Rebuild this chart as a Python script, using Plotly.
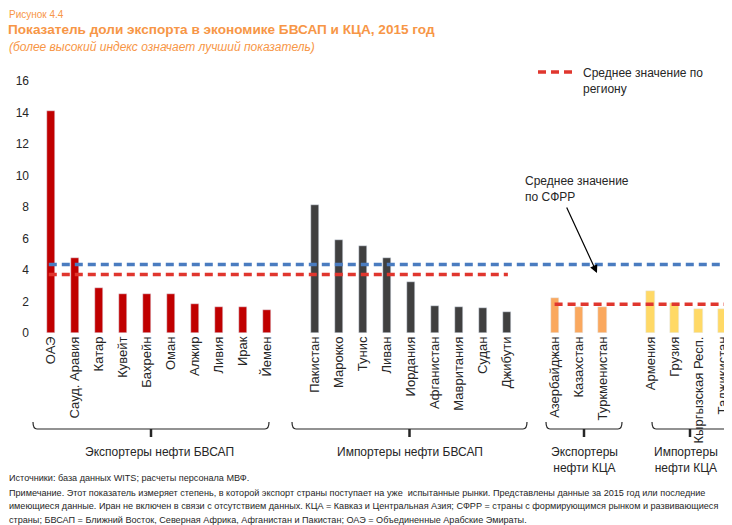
import plotly.graph_objects as go

# ── Data ──────────────────────────────────────────────────────────────────────
mena_exp_names = ["ОАЭ", "Сауд. Аравия", "Катар", "Кувейт", "Бахрейн", "Оман",
                  "Алжир", "Ливия", "Ирак", "Йемен"]
mena_exp_vals = [14.1, 4.75, 2.85, 2.47, 2.47, 2.47, 1.83, 1.64, 1.64, 1.44]

mena_imp_names = ["Пакистан", "Марокко", "Тунис", "Ливан", "Иордания", "Афганистан",
                  "Мавритания", "Судан", "Джибути"]
mena_imp_vals = [8.1, 5.9, 5.5, 4.75, 3.23, 1.7, 1.64, 1.57, 1.32]

cca_exp_names = ["Азербайджан", "Казахстан", "Туркменистан"]
cca_exp_vals = [2.23, 1.64, 1.64]

cca_imp_names = ["Армения", "Грузия", "Кыргызская Респ.", "Таджикистан"]
cca_imp_vals = [2.67, 1.89, 1.53, 1.53]

group_labels = ["Экспортеры нефти БВСАП", "Импортеры нефти БВСАП",
                "Экспортеры<br>нефти КЦА", "Импортеры<br>нефти КЦА"]

emde_avg = 4.35          # среднее значение по СФРР
mena_avg = 3.72          # среднее по региону, БВСАП
cca_avg = 1.83           # среднее по региону, КЦА

# ── Style ─────────────────────────────────────────────────────────────────────
COLORS = ["#C00000", "#404040", "#FAA85E", "#FFD966"]
RED_LINE = "#E0362E"
BLUE_LINE = "#4A7CC0"
ORANGE = "#F79646"
TXT = "#262626"
FONT = "Liberation Sans, Arial, sans-serif"

groups = [
    (mena_exp_names, mena_exp_vals),
    (mena_imp_names, mena_imp_vals),
    (cca_exp_names, cca_exp_vals),
    (cca_imp_names, cca_imp_vals),
]

# slot positions: one blank slot between groups
positions = []
pos = 0
for names, _ in groups:
    positions.append(list(range(pos, pos + len(names))))
    pos += len(names) + 1

# the page body has an 8px margin, so the figure is 8px smaller each way
OFF = 8
FIG_W, FIG_H = 732 - OFF, 525 - OFF
X0, X1 = -0.55, 28.4
L, T, W, H = 30, 73, 694, 252


def px(pix):
    """page pixel x -> paper x"""
    return (pix - OFF - L) / W


def py(pix):
    """page pixel y -> paper y"""
    return (T + H + OFF - pix) / H


def xdata(pix):
    return X0 + px(pix) * (X1 - X0)


def ydata(pix):
    return py(pix) * 16


fig = go.Figure()

for (names, vals), xs, color in zip(groups, positions, COLORS):
    fig.add_trace(go.Bar(
        x=xs, y=vals, marker_color=color, width=0.34,
        showlegend=False, hoverinfo="x+y",
    ))

dash = "8px,5px"
all_x = [x for xs in positions for x in xs]

fig.add_trace(go.Scatter(
    x=[all_x[0] - 0.1, all_x[-1] + 0.2], y=[emde_avg, emde_avg], mode="lines",
    line=dict(color=BLUE_LINE, width=3.5, dash=dash), showlegend=False,
))
fig.add_trace(go.Scatter(
    x=[positions[0][0] - 0.1, positions[1][-1] + 0.05], y=[mena_avg, mena_avg], mode="lines",
    line=dict(color=RED_LINE, width=3.5, dash=dash), showlegend=False,
))
fig.add_trace(go.Scatter(
    x=[positions[2][0], positions[3][-1] + 0.1], y=[cca_avg, cca_avg], mode="lines",
    line=dict(color=RED_LINE, width=3.5, dash=dash), showlegend=False,
))

# legend for the regional average, drawn by hand
fig.add_shape(type="line", xref="paper", yref="paper", x0=px(538), x1=px(576),
              y0=py(72), y1=py(72), line=dict(color=RED_LINE, width=3.5, dash=dash))
fig.add_annotation(x=px(581), y=py(64), xref="paper", yref="paper",
                   text="Среднее значение по<br>региону", showarrow=False,
                   xanchor="left", yanchor="top", align="left",
                   font=dict(size=12, color=TXT, family=FONT))

tickvals = all_x
ticktext = [n for names, _ in groups for n in names]

# ── Brackets under the groups ────────────────────────────────────────────────
bracket_spans = [(33, 269), (292, 527), (546, 622), (652, 728)]
label_centers = [159, 410, 584, 686]
y_top, y_mid, y_tick = py(422), py(429), py(437)
for (a, b), cx, label in zip(bracket_spans, label_centers, group_labels):
    xa, xb = px(a), px(b)
    xm = (xa + xb) / 2
    r = 4 / W
    path = (f"M {xa},{y_top} Q {xa},{y_mid} {xa + r},{y_mid} "
            f"L {xb - r},{y_mid} Q {xb},{y_mid} {xb},{y_top}")
    fig.add_shape(type="path", path=path, xref="paper", yref="paper",
                  line=dict(color=TXT, width=1.2))
    fig.add_shape(type="line", xref="paper", yref="paper", x0=xm, x1=xm,
                  y0=y_mid, y1=y_tick, line=dict(color=TXT, width=2.5))
    fig.add_annotation(x=px(cx), y=py(443), xref="paper", yref="paper",
                       text=label, showarrow=False, xanchor="center", yanchor="top",
                       font=dict(size=12, color=TXT, family=FONT))

# ── EMDE average callout ─────────────────────────────────────────────────────
fig.add_annotation(x=px(523), y=py(172), xref="paper", yref="paper",
                   text="Среднее значение<br>по СФРР", showarrow=False,
                   xanchor="left", yanchor="top", align="left",
                   font=dict(size=12, color=TXT, family=FONT))
fig.add_annotation(x=xdata(597), y=ydata(273), ax=-31, ay=-67, text="", showarrow=True,
                   arrowhead=2, arrowsize=1.3, arrowwidth=1.2, arrowcolor="#000000")

# ── Titles ────────────────────────────────────────────────────────────────────
fig.add_annotation(x=px(8), y=py(8), xref="paper", yref="paper", text="Рисунок 4.4",
                   showarrow=False, xanchor="left", yanchor="top", borderpad=0,
                   font=dict(size=10, color=ORANGE, family=FONT))
fig.add_annotation(x=px(7), y=py(21), xref="paper", yref="paper",
                   text="<b>Показатель доли экспорта в экономике БВСАП и КЦА, 2015 год</b>",
                   showarrow=False, xanchor="left", yanchor="top", borderpad=0,
                   font=dict(size=13.6, color=ORANGE, family=FONT))
fig.add_annotation(x=px(8), y=py(39), xref="paper", yref="paper",
                   text="<i>(более высокий индекс означает лучший показатель)</i>",
                   showarrow=False, xanchor="left", yanchor="top", borderpad=0,
                   font=dict(size=12, color=ORANGE, family=FONT))

# ── Footnotes ────────────────────────────────────────────────────────────────
notes = [
    "Источники: база данных WITS; расчеты персонала МВФ.",
    "Примечание. Этот показатель измеряет степень, в которой экспорт страны поступает на уже  "
    "испытанные рынки. Представлены данные за 2015 год или последние",
    "имеющиеся данные. Иран не включен в связи с отсутствием данных. КЦА = Кавказ и Центральная Азия; "
    "СФРР = страны с формирующимся рынком и развивающиеся",
    "страны; БВСАП = Ближний Восток, Северная Африка, Афганистан и Пакистан; "
    "ОАЭ = Объединенные Арабские Эмираты.",
]
note_tops = [472, 487, 500.5, 513.5]
for line, top in zip(notes, note_tops):
    fig.add_annotation(x=px(8), y=py(top), xref="paper", yref="paper", text=line,
                       showarrow=False, xanchor="left", yanchor="top", borderpad=0,
                       font=dict(size=9.1, color=TXT, family=FONT))

fig.update_layout(
    width=FIG_W, height=FIG_H,
    margin=dict(l=L, r=FIG_W - L - W, t=T, b=FIG_H - T - H, pad=0),
    paper_bgcolor="white", plot_bgcolor="white",
    font=dict(family=FONT, size=12, color=TXT),
    bargap=0, showlegend=False,
    xaxis=dict(range=[X0, X1], tickmode="array", tickvals=tickvals, ticktext=ticktext,
               tickangle=-90, showgrid=False, zeroline=False, showline=False,
               ticks="", tickfont=dict(size=13, color=TXT)),
    yaxis=dict(range=[0, 16], dtick=2, showgrid=False, zeroline=False, showline=False,
               ticks="", ticklabelstandoff=8, tickfont=dict(size=12, color=TXT)),
)

fig.write_html("out.html")
